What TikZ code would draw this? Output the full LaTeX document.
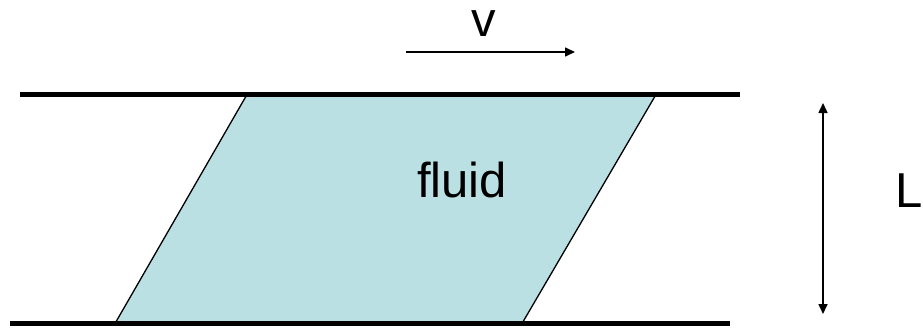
\documentclass[tikz,border=0pt]{standalone}
\usepackage{fontspec}
\setmainfont{Liberation Sans}
\usetikzlibrary{arrows.meta}
\definecolor{fluidfill}{RGB}{186,224,227}
\begin{document}
\begin{tikzpicture}[x=1pt,y=-1pt,
  plate/.style={line width=5pt},
  side/.style={line width=1.3pt},
  arrowline/.style={line width=1.6pt,-{Triangle[length=10pt,width=9pt]}},
  dblarrow/.style={line width=1.6pt,{Triangle[length=10pt,width=9pt]}-{Triangle[length=10pt,width=9pt]}},
  lbl/.style={inner sep=0pt,font=\fontsize{49}{57}\selectfont}]
\useasboundingbox (0,0) rectangle (923,329);
% parallelogram corners
\coordinate (tl) at (247,94.5);
\coordinate (tr) at (656,94.5);
\coordinate (br) at (522,323.5);
\coordinate (bl) at (115,323.5);
\fill[fluidfill] (tl) -- (tr) -- (br) -- (bl) -- cycle;
\draw[side] (tl) -- (bl);
\draw[side] (tr) -- (br);
% plates
\coordinate (topA) at (20,94.5);
\coordinate (topB) at (740,94.5);
\coordinate (botA) at (10,323.5);
\coordinate (botB) at (730,323.5);
\draw[plate] (topA) -- (topB);
\draw[plate] (botA) -- (botB);
% velocity arrow
\coordinate (vA) at (406,52);
\coordinate (vB) at (575,52);
\draw[arrowline] (vA) -- (vB);
\node[lbl, anchor=base] (v) at (484,37) {v};
% L arrow
\coordinate (LA) at (823,103);
\coordinate (LB) at (823,314);
\draw[dblarrow] (LA) -- (LB);
\node[lbl, anchor=base] (L) at (909,207) {L};
% fluid label
\node[lbl, anchor=base] (fluid) at (462,197) {fluid};
\end{tikzpicture}
\end{document}
